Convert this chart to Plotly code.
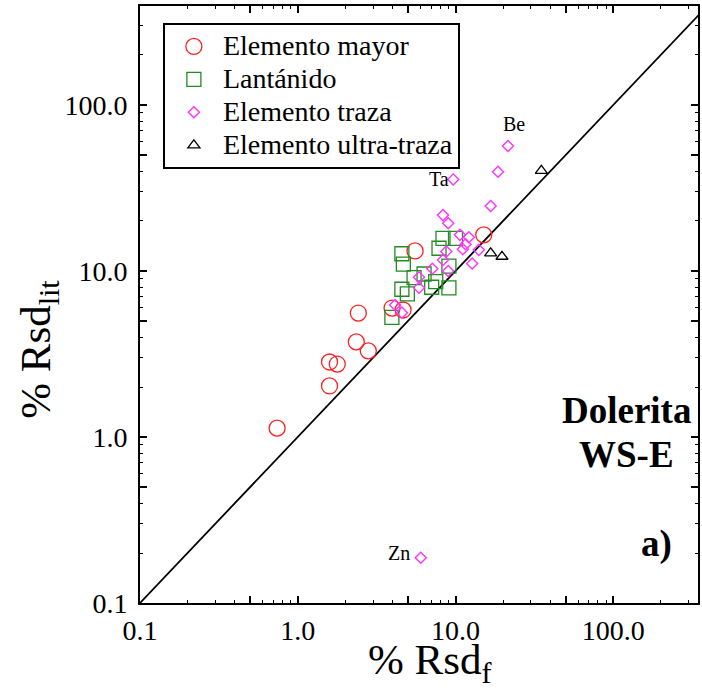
import plotly.graph_objects as go
import numpy as np

# ---- data ----
mayor_x = [0.74, 1.59, 1.59, 1.78, 2.35, 2.80, 2.42, 3.96, 4.65, 5.54, 15.1]
mayor_y = [1.13, 2.03, 2.83, 2.75, 3.74, 3.30, 5.58, 5.98, 5.82, 13.2, 16.5]

lant_x = [4.57, 4.67, 8.33, 10.0, 7.86, 9.08, 6.32, 5.46, 7.49, 4.57, 4.95, 7.06, 9.08, 3.95]
lant_y = [12.7, 11.0, 15.7, 15.7, 13.7, 10.7, 9.59, 9.11, 8.62, 7.76, 7.27, 7.98, 7.90, 5.26]

traza_x = [21.5, 18.6, 9.67, 16.7, 8.33, 8.99, 10.66, 12.15, 11.58, 11.13, 14.05,
           8.74, 8.33, 12.75, 7.13, 8.99, 5.87, 5.87, 4.14, 4.57, 6.02]
traza_y = [56.6, 39.6, 35.6, 24.6, 21.7, 19.4, 16.5, 15.96, 14.5, 13.5, 13.4,
           13.1, 11.65, 11.1, 10.3, 10.0, 9.16, 7.93, 6.24, 5.61, 0.1875]

ultra_x = [16.7, 19.7, 35.0]
ultra_y = [12.8, 12.2, 40.2]

label_names = ["Be", "Ta", "Zn"]
label_x = [21.5, 9.67, 6.02]
label_y = [56.6, 35.6, 0.1875]

identity = [0.1, 400.0]

major_vals = [0.1, 1, 10, 100]
major_text = ["0.1", "1.0", "10.0", "100.0"]
mid_vals = [0.5, 5, 50, 500]
minor_vals = [m * 10.0 ** e for e in range(-1, 3) for m in (2, 3, 4, 6, 7, 8, 9)]

FONT = "Liberation Serif"
XR = [-1, 2.537]
YR = [-1, 2.596]

def leg(name):
    return '<span style="font-size:28px">' + name + '</span>'

fig = go.Figure()

fig.add_trace(go.Scatter(x=identity, y=identity, mode="lines",
                         line=dict(color="black", width=1.8), showlegend=False,
                         hoverinfo="skip"))

fig.add_trace(go.Scatter(x=mayor_x, y=mayor_y, mode="markers", name=leg("Elemento mayor"),
                         marker=dict(symbol="circle-open", size=16, color="#ff2020",
                                     line=dict(width=1.3))))
fig.add_trace(go.Scatter(x=lant_x, y=lant_y, mode="markers", name=leg("Lantánido"),
                         marker=dict(symbol="square-open", size=14, color="#228b22",
                                     line=dict(width=1.3))))
fig.add_trace(go.Scatter(x=traza_x, y=traza_y, mode="markers", name=leg("Elemento traza"),
                         marker=dict(symbol="diamond-open", size=8.5, color="#ff33ff",
                                     line=dict(width=1.4))))
fig.add_trace(go.Scatter(x=ultra_x, y=ultra_y, mode="markers", name=leg("Elemento ultra-traza"),
                         marker=dict(symbol="triangle-up-open", size=10.5, color="black",
                                     line=dict(width=1.3))))

# helper trace for the secondary (mid-decade tick) axes
fig.add_trace(go.Scatter(x=identity, y=identity, mode="lines", xaxis="x2", yaxis="y2",
                         line=dict(width=0, color="rgba(0,0,0,0)"), showlegend=False,
                         hoverinfo="skip"))

# point labels
offsets = {"Be": dict(xanchor="center", yanchor="bottom", xshift=6, yshift=9),
           "Ta": dict(xanchor="right", yanchor="middle", xshift=-2, yshift=0),
           "Zn": dict(xanchor="right", yanchor="middle", xshift=-9, yshift=5)}
for n, lx, ly in zip(label_names, label_x, label_y):
    fig.add_annotation(x=np.log10(lx), y=np.log10(ly), text=n, showarrow=False,
                       font=dict(family=FONT, size=20, color="black"), **offsets[n])

# panel text
for txt, yy in [("<b>Dolerita</b>", 0.323), ("<b>WS-E</b>", 0.248)]:
    fig.add_annotation(xref="paper", yref="paper", x=0.872, y=yy, text=txt,
                       showarrow=False, font=dict(family=FONT, size=37, color="black"),
                       xanchor="center", yanchor="middle")
fig.add_annotation(xref="paper", yref="paper", x=0.925, y=0.098, text="<b>a)</b>",
                   showarrow=False, font=dict(family=FONT, size=37, color="black"),
                   xanchor="center", yanchor="middle")

# axis titles
fig.add_annotation(xref="paper", yref="paper", x=0.52, y=-0.1,
                   text="% Rsd<sub>f</sub>", showarrow=False,
                   font=dict(family=FONT, size=43, color="black"),
                   xanchor="center", yanchor="middle")
fig.add_annotation(xref="paper", yref="paper", x=-0.18, y=0.425,
                   text="% Rsd<sub>lit</sub>", showarrow=False, textangle=-90,
                   font=dict(family=FONT, size=43, color="black"),
                   xanchor="center", yanchor="middle")

axis_common = dict(type="log", showgrid=False, zeroline=False,
                   showline=True, linecolor="black", linewidth=2,
                   mirror="ticks", ticks="inside", ticklen=7, tickwidth=1.5,
                   tickcolor="black", tickmode="array", tickvals=major_vals,
                   ticktext=major_text,
                   tickfont=dict(family=FONT, size=28, color="black"),
                   minor=dict(tickmode="array", tickvals=minor_vals, ticklen=3,
                              tickwidth=1.3, tickcolor="black", ticks="inside"))

fig.update_layout(
    width=702, height=700,
    margin=dict(l=140, r=2, t=6, b=97),
    paper_bgcolor="white", plot_bgcolor="white",
    font=dict(family=FONT, color="black"),
    xaxis=dict(range=XR, ticklabelstandoff=1, **axis_common),
    yaxis=dict(range=YR, ticklabelstandoff=5, **axis_common),
    xaxis2=dict(type="log", range=XR, overlaying="x", anchor="y2", side="bottom",
                showgrid=False, zeroline=False, showline=False, mirror="ticks",
                ticks="inside", ticklen=7, tickwidth=1.5, tickcolor="black",
                tickmode="array", tickvals=mid_vals, showticklabels=False),
    yaxis2=dict(type="log", range=YR, overlaying="y", anchor="x2", side="left",
                showgrid=False, zeroline=False, showline=False, mirror="ticks",
                ticks="inside", ticklen=7, tickwidth=1.5, tickcolor="black",
                tickmode="array", tickvals=mid_vals, showticklabels=False),
    legend=dict(x=0.041, y=0.9715, xanchor="left", yanchor="top",
                bordercolor="black", borderwidth=2, bgcolor="white",
                font=dict(family=FONT, size=23, color="black"),
                itemwidth=48, tracegroupgap=0),
)

fig.write_html("out.html")
